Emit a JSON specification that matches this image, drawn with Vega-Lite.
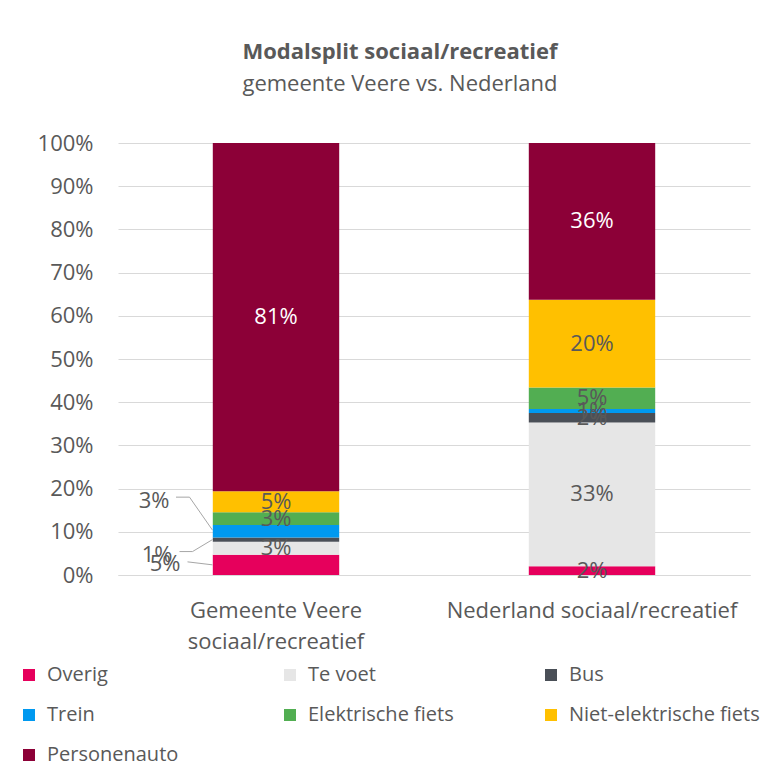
{
  "$schema": "https://vega.github.io/schema/vega-lite/v6.json",
  "autosize": "none",
  "width": 632,
  "height": 432,
  "padding": {"left": 118, "top": 143, "right": 15, "bottom": 189},
  "background": "white",
  "config": {
    "font": "Open Sans",
    "view": {"stroke": null},
    "axis": {"labelColor": "#595959", "labelFont": "Open Sans", "labelFontSize": 22, "ticks": false, "title": null, "gridColor": "#D9D9D9", "domainColor": "#D9D9D9"}
  },
  "title": {
    "text": "Modalsplit sociaal/recreatief",
    "subtitle": "gemeente Veere vs. Nederland",
    "anchor": "middle",
    "frame": "group",
    "dx": -34,
    "offset": 36,
    "font": "Open Sans",
    "fontSize": 22,
    "fontWeight": "bold",
    "color": "#595959",
    "subtitleFont": "Open Sans",
    "subtitleFontSize": 22,
    "subtitleColor": "#595959",
    "subtitlePadding": 10
  },
  "data": {
    "values": [
      {"cat": "Gemeente Veere sociaal/recreatief", "mode": "Overig", "i": 1, "v": 0.047},
      {"cat": "Gemeente Veere sociaal/recreatief", "mode": "Te voet", "i": 2, "v": 0.030},
      {"cat": "Gemeente Veere sociaal/recreatief", "mode": "Bus", "i": 3, "v": 0.010},
      {"cat": "Gemeente Veere sociaal/recreatief", "mode": "Trein", "i": 4, "v": 0.029},
      {"cat": "Gemeente Veere sociaal/recreatief", "mode": "Elektrische fiets", "i": 5, "v": 0.029},
      {"cat": "Gemeente Veere sociaal/recreatief", "mode": "Niet-elektrische fiets", "i": 6, "v": 0.049},
      {"cat": "Gemeente Veere sociaal/recreatief", "mode": "Personenauto", "i": 7, "v": 0.806},
      {"cat": "Nederland sociaal/recreatief", "mode": "Overig", "i": 1, "v": 0.020},
      {"cat": "Nederland sociaal/recreatief", "mode": "Te voet", "i": 2, "v": 0.333},
      {"cat": "Nederland sociaal/recreatief", "mode": "Bus", "i": 3, "v": 0.022},
      {"cat": "Nederland sociaal/recreatief", "mode": "Trein", "i": 4, "v": 0.009},
      {"cat": "Nederland sociaal/recreatief", "mode": "Elektrische fiets", "i": 5, "v": 0.050},
      {"cat": "Nederland sociaal/recreatief", "mode": "Niet-elektrische fiets", "i": 6, "v": 0.203},
      {"cat": "Nederland sociaal/recreatief", "mode": "Personenauto", "i": 7, "v": 0.363}
    ]
  },
  "transform": [
    {"stack": "v", "groupby": ["cat"], "sort": [{"field": "i", "order": "ascending"}], "as": ["y0", "y1"]},
    {"calculate": "(datum.y0 + datum.y1) / 2", "as": "mid"}
  ],
  "encoding": {
    "x": {
      "field": "cat", "type": "nominal", "sort": null,
      "scale": {"paddingInner": 0.6, "paddingOuter": 0.3},
      "axis": {"labelAngle": 0, "labelPadding": 25, "labelLineHeight": 31, "labelBaseline": "top", "labelLimit": 400, "domain": true, "grid": false,
        "labelExpr": "datum.label == 'Gemeente Veere sociaal/recreatief' ? ['Gemeente Veere', 'sociaal/recreatief'] : datum.label"}
    }
  },
  "layer": [
    {
      "mark": {"type": "bar"},
      "encoding": {
        "y": {"field": "y0", "type": "quantitative", "scale": {"domain": [0, 1], "nice": false},
          "axis": {"format": ".0%", "values": [0,0.1,0.2,0.3,0.4,0.5,0.6,0.7,0.8,0.9,1], "labelOverlap": false, "domain": false, "grid": true, "labelPadding": 25}},
        "y2": {"field": "y1"},
        "color": {
          "field": "mode", "type": "nominal",
          "scale": {
            "domain": ["Overig", "Te voet", "Bus", "Trein", "Elektrische fiets", "Niet-elektrische fiets", "Personenauto"],
            "range": ["#E6005C", "#E6E6E6", "#4A4F57", "#0099F0", "#52AE52", "#FFC000", "#8C0037"]
          },
          "legend": {
            "title": null, "orient": "none", "direction": "horizontal", "legendX": -99, "legendY": 522, "columns": 3, "gridAlign": "all",
            "columnPadding": 42, "rowPadding": 20, "padding": 0,
            "symbolType": "square", "symbolSize": 144, "symbolStrokeWidth": 0, "labelOffset": 8,
            "labelFont": "Open Sans", "labelFontSize": 20, "labelColor": "#595959", "labelLimit": 400
          }
        }
      }
    },
    {
      "transform": [{"filter": "!(datum.cat == 'Gemeente Veere sociaal/recreatief' && (datum.mode == 'Overig' || datum.mode == 'Bus' || datum.mode == 'Trein'))"}],
      "mark": {"type": "text", "font": "Open Sans", "fontSize": 22, "baseline": "middle", "align": "center"},
      "encoding": {
        "y": {"field": "mid", "type": "quantitative", "axis": {"format": ".0%", "values": [0,0.1,0.2,0.3,0.4,0.5,0.6,0.7,0.8,0.9,1], "labelOverlap": false, "domain": false, "grid": true, "labelPadding": 25}},
        "text": {"field": "v", "type": "quantitative", "format": ".0%"},
        "color": {"condition": {"test": "datum.mode == 'Personenauto'", "value": "#FFFFFF"}, "value": "#595959"}
      }
    },
    {
      "transform": [{"filter": "datum.cat == 'Gemeente Veere sociaal/recreatief' && datum.mode == 'Trein'"}],
      "mark": {"type": "text", "font": "Open Sans", "fontSize": 22, "baseline": "middle", "align": "center", "dx": -122, "dy": -30, "color": "#595959"},
      "encoding": {"y": {"field": "mid", "type": "quantitative", "axis": {"format": ".0%", "values": [0,0.1,0.2,0.3,0.4,0.5,0.6,0.7,0.8,0.9,1], "labelOverlap": false, "domain": false, "grid": true, "labelPadding": 25}}, "text": {"field": "v", "type": "quantitative", "format": ".0%"}}
    },
    {
      "transform": [{"filter": "datum.cat == 'Gemeente Veere sociaal/recreatief' && datum.mode == 'Bus'"}],
      "mark": {"type": "text", "font": "Open Sans", "fontSize": 22, "baseline": "middle", "align": "center", "dx": -119, "dy": 15, "color": "#595959"},
      "encoding": {"y": {"field": "mid", "type": "quantitative", "axis": {"format": ".0%", "values": [0,0.1,0.2,0.3,0.4,0.5,0.6,0.7,0.8,0.9,1], "labelOverlap": false, "domain": false, "grid": true, "labelPadding": 25}}, "text": {"field": "v", "type": "quantitative", "format": ".0%"}}
    },
    {
      "transform": [{"filter": "datum.cat == 'Gemeente Veere sociaal/recreatief' && datum.mode == 'Overig'"}],
      "mark": {"type": "text", "font": "Open Sans", "fontSize": 22, "baseline": "middle", "align": "center", "dx": -111, "dy": -1, "color": "#595959"},
      "encoding": {"y": {"field": "mid", "type": "quantitative", "axis": {"format": ".0%", "values": [0,0.1,0.2,0.3,0.4,0.5,0.6,0.7,0.8,0.9,1], "labelOverlap": false, "domain": false, "grid": true, "labelPadding": 25}}, "text": {"field": "v", "type": "quantitative", "format": ".0%"}}
    },
    {
      "transform": [{"filter": "datum.cat == 'Gemeente Veere sociaal/recreatief' && datum.mode == 'Trein'"}],
      "mark": {"type": "rule", "color": "#A6A6A6", "strokeWidth": 1, "xOffset": -100, "x2Offset": -86.5, "yOffset": -34, "y2Offset": -34},
      "encoding": {"x2": {"field": "cat"}, "y": {"field": "mid", "type": "quantitative", "axis": {"format": ".0%", "values": [0,0.1,0.2,0.3,0.4,0.5,0.6,0.7,0.8,0.9,1], "labelOverlap": false, "domain": false, "grid": true, "labelPadding": 25}}, "y2": {"field": "mid"}}
    },
    {
      "transform": [{"filter": "datum.cat == 'Gemeente Veere sociaal/recreatief' && datum.mode == 'Trein'"}],
      "mark": {"type": "rule", "color": "#A6A6A6", "strokeWidth": 1, "xOffset": -86.5, "x2Offset": -63.5, "yOffset": -34, "y2Offset": -1},
      "encoding": {"x2": {"field": "cat"}, "y": {"field": "mid", "type": "quantitative", "axis": {"format": ".0%", "values": [0,0.1,0.2,0.3,0.4,0.5,0.6,0.7,0.8,0.9,1], "labelOverlap": false, "domain": false, "grid": true, "labelPadding": 25}}, "y2": {"field": "mid"}}
    },
    {
      "transform": [{"filter": "datum.cat == 'Gemeente Veere sociaal/recreatief' && datum.mode == 'Bus'"}],
      "mark": {"type": "rule", "color": "#A6A6A6", "strokeWidth": 1, "xOffset": -96.5, "x2Offset": -83.5, "yOffset": 12, "y2Offset": 12},
      "encoding": {"x2": {"field": "cat"}, "y": {"field": "mid", "type": "quantitative", "axis": {"format": ".0%", "values": [0,0.1,0.2,0.3,0.4,0.5,0.6,0.7,0.8,0.9,1], "labelOverlap": false, "domain": false, "grid": true, "labelPadding": 25}}, "y2": {"field": "mid"}}
    },
    {
      "transform": [{"filter": "datum.cat == 'Gemeente Veere sociaal/recreatief' && datum.mode == 'Bus'"}],
      "mark": {"type": "rule", "color": "#A6A6A6", "strokeWidth": 1, "xOffset": -83.5, "x2Offset": -63.5, "yOffset": 12, "y2Offset": 0},
      "encoding": {"x2": {"field": "cat"}, "y": {"field": "mid", "type": "quantitative", "axis": {"format": ".0%", "values": [0,0.1,0.2,0.3,0.4,0.5,0.6,0.7,0.8,0.9,1], "labelOverlap": false, "domain": false, "grid": true, "labelPadding": 25}}, "y2": {"field": "mid"}}
    },
    {
      "transform": [{"filter": "datum.cat == 'Gemeente Veere sociaal/recreatief' && datum.mode == 'Overig'"}],
      "mark": {"type": "rule", "color": "#A6A6A6", "strokeWidth": 1, "xOffset": -88.5, "x2Offset": -63.5, "yOffset": -3, "y2Offset": 0},
      "encoding": {"x2": {"field": "cat"}, "y": {"field": "mid", "type": "quantitative", "axis": {"format": ".0%", "values": [0,0.1,0.2,0.3,0.4,0.5,0.6,0.7,0.8,0.9,1], "labelOverlap": false, "domain": false, "grid": true, "labelPadding": 25}}, "y2": {"field": "mid"}}
    }
  ]
}
